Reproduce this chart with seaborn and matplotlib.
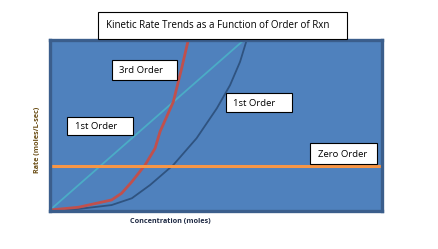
import matplotlib
matplotlib.use("Agg")
import matplotlib.pyplot as plt
import seaborn as sns
import pandas as pd
from matplotlib.patches import Rectangle

sns.set_theme(style="white")
plt.rcParams['font.family'] = ['Open Sans', 'DejaVu Sans']

# ---- data ----
title = "Kinetic Rate Trends as a Function of Order of Rxn"
x_label = "Concentration (moles)"
y_label = "Rate (moles/L-sec)"

zero_x = [0.0, 10.0]
zero_y = [2.62, 2.62]

first_x = [0.0, 5.84]
first_y = [0.0, 10.0]

third_x = [0.02, 0.87, 1.87, 2.17, 2.48, 2.88, 3.18, 3.33, 3.73, 3.98, 4.18]
third_y = [0.03, 0.19, 0.62, 1.01, 1.69, 2.68, 3.66, 4.64, 6.40, 8.36, 10.03]

second_x = [0.0, 0.87, 1.87, 2.48, 3.03, 3.73, 4.43, 5.04, 5.44, 5.74, 5.94]
second_y = [0.0, 0.09, 0.32, 0.72, 1.50, 2.68, 4.25, 6.01, 7.38, 8.75, 10.03]

labels = ["3rd Order", "1st Order", "1st Order", "Zero Order"]

W, H = 438, 249
fig = plt.figure(figsize=(W / 100, H / 100), dpi=100)
fig.patch.set_facecolor("white")

def fx(px):
    return px / W

def fy(py):
    return 1 - py / H

ax = fig.add_axes([fx(49.5), fy(210.5), (381.5 - 49.5) / W, (210.5 - 40.5) / H])
ax.set_facecolor("#4F81BD")
for s in ax.spines.values():
    s.set_color("#3B5E8C")
    s.set_linewidth(2.4)
    s.set_visible(True)

df_zero = pd.DataFrame({"x": zero_x, "y": zero_y})
df_first = pd.DataFrame({"x": first_x, "y": first_y})
df_third = pd.DataFrame({"x": third_x, "y": third_y})
df_second = pd.DataFrame({"x": second_x, "y": second_y})

kw = dict(solid_joinstyle="round", solid_capstyle="round")
sns.lineplot(data=df_second, x="x", y="y", ax=ax, sort=False, color="#2F5380", linewidth=1.3, **kw)
sns.lineplot(data=df_first, x="x", y="y", ax=ax, sort=False, color="#4BACC6", linewidth=1.3, **kw)
sns.lineplot(data=df_third, x="x", y="y", ax=ax, sort=False, color="#C0504D", linewidth=2.0, **kw)
sns.lineplot(data=df_zero, x="x", y="y", ax=ax, sort=False, color="#F79646", linewidth=2.2)

ax.set_xlim(0, 10)
ax.set_ylim(0, 10)
ax.set_xticks([])
ax.set_yticks([])
ax.set_xlabel("")
ax.set_ylabel("")

def fig_box(x0, y0, x1, y1):
    r = Rectangle((fx(x0), fy(y1)), (x1 - x0) / W, (y1 - y0) / H,
                  transform=fig.transFigure, facecolor="white",
                  edgecolor="black", linewidth=0.8, zorder=5)
    fig.add_artist(r)

fig_box(98, 12, 347, 39)
fig.text(fx(106), fy(25), title, fontsize=7.0, color="black",
         va="center", ha="left", zorder=6)

boxes = [(112, 60, 177, 80), (67, 117, 133, 135), (226, 93, 292, 112), (310, 143, 377, 164)]
text_x = [119, 75, 233, 318]
for (x0, y0, x1, y1), lbl, tx in zip(boxes, labels, text_x):
    fig_box(x0, y0, x1, y1)
    fig.text(fx(tx), fy((y0 + y1) / 2 + 0.5), lbl, fontsize=6.8, color="black",
             va="center", ha="left", zorder=6)

fig.text(fx(170), fy(221), x_label, fontsize=5.2, color="#1F2A44",
         fontweight="bold", ha="center", va="center")
fig.text(fx(37), fy(140), y_label, fontsize=5.2, color="#6B4E16",
         fontweight="bold", ha="center", va="center", rotation=90)

fig.savefig("out.png", dpi=100, facecolor="white")
